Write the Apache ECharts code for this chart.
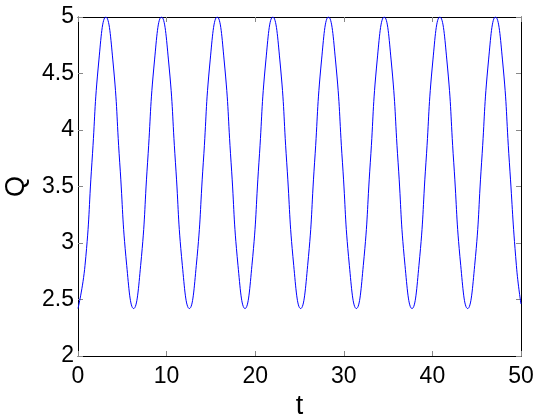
<!DOCTYPE html>
<html>
<head>
<meta charset="utf-8">
<title>Q(t)</title>
<script src="https://cdn.jsdelivr.net/npm/echarts@6/dist/echarts.min.js"></script>
<style>
  html, body { margin: 0; padding: 0; background: #fff; }
  #chart { width: 536px; height: 418px; }
</style>
</head>
<body>
<div id="chart"></div>
<script>
// values (t, Q)
var tValues = [0, 0.79, 1.57, 2.36, 3.14, 3.93, 4.71, 5.50, 6.28, 7.07, 7.85, 8.64, 9.42, 10.21, 11.00, 11.78,
  12.57, 13.35, 14.14, 14.92, 15.71, 16.49, 17.28, 18.06, 18.85, 19.63, 20.42, 21.21, 21.99, 22.78, 23.56, 24.35,
  25.13, 25.92, 26.70, 27.49, 28.27, 29.06, 29.85, 30.63, 31.42, 32.20, 32.99, 33.77, 34.56, 35.34, 36.13, 36.91,
  37.70, 38.48, 39.27, 40.06, 40.84, 41.63, 42.41, 43.20, 43.98, 44.77, 45.55, 46.34, 47.12, 47.91, 48.69, 49.48, 50];
var qValues = [2.42, 2.80, 3.71, 4.62, 5.00, 4.62, 3.71, 2.80, 2.42, 2.80, 3.71, 4.62, 5.00, 4.62, 3.71, 2.80,
  2.42, 2.80, 3.71, 4.62, 5.00, 4.62, 3.71, 2.80, 2.42, 2.80, 3.71, 4.62, 5.00, 4.62, 3.71, 2.80,
  2.42, 2.80, 3.71, 4.62, 5.00, 4.62, 3.71, 2.80, 2.42, 2.80, 3.71, 4.62, 5.00, 4.62, 3.71, 2.80,
  2.42, 2.80, 3.71, 4.62, 5.00, 4.62, 3.71, 2.80, 2.42, 2.80, 3.71, 4.62, 5.00, 4.62, 3.71, 2.80, 2.46];
var xTicks = ['0', '10', '20', '30', '40', '50'];
var yTicks = ['2', '2.5', '3', '3.5', '4', '4.5', '5'];

var points = [];
for (var i = 0; i < tValues.length; i++) {
  points.push([tValues[i], qValues[i]]);
}

var font = 'Liberation Sans, Arial, Helvetica, sans-serif';
function tick() {
  return { show: true, inside: true, length: 5, lineStyle: { color: '#888', width: 1 } };
}
function frame() {
  return { show: true, onZero: false, lineStyle: { color: '#000', width: 1 } };
}

var myChart = echarts.init(document.getElementById('chart'), null, { renderer: 'canvas' });
var option = {
  animation: false,
  backgroundColor: '#fff',
  grid: { left: 78, right: 15, top: 17, bottom: 62, outerBoundsMode: 'none', containLabel: false },
  xAxis: [
    {
      type: 'value', position: 'bottom', min: 0, max: 50, interval: 10,
      name: 't', nameLocation: 'middle', nameGap: 31,
      nameTextStyle: { fontFamily: font, fontSize: 27, color: '#000' },
      axisLine: frame(), axisTick: tick(), splitLine: { show: false },
      axisLabel: {
        margin: 9, fontFamily: font, fontSize: 23, color: '#000',
        formatter: function (v) { return xTicks[Math.round(v / 10)]; }
      }
    },
    {
      type: 'value', position: 'top', min: 0, max: 50, interval: 10,
      axisLine: frame(), axisTick: tick(), splitLine: { show: false },
      axisLabel: { show: false }
    }
  ],
  yAxis: [
    {
      type: 'value', position: 'left', min: 2, max: 5, interval: 0.5,
      name: 'Q', nameLocation: 'middle', nameGap: 48,
      nameTextStyle: { fontFamily: font, fontSize: 27, color: '#000' },
      axisLine: frame(), axisTick: tick(), splitLine: { show: false },
      axisLabel: {
        margin: 4, fontFamily: font, fontSize: 23, color: '#000', padding: [4, 0, 0, 0],
        formatter: function (v) { return yTicks[Math.round((v - 2) * 2)]; }
      }
    },
    {
      type: 'value', position: 'right', min: 2, max: 5, interval: 0.5,
      axisLine: frame(), axisTick: tick(), splitLine: { show: false },
      axisLabel: { show: false }
    }
  ],
  series: [
    {
      type: 'line',
      data: points,
      smooth: true,
      showSymbol: false,
      lineStyle: { color: '#0000ff', width: 1 }
    }
  ]
};
myChart.setOption(option);
</script>
</body>
</html>
